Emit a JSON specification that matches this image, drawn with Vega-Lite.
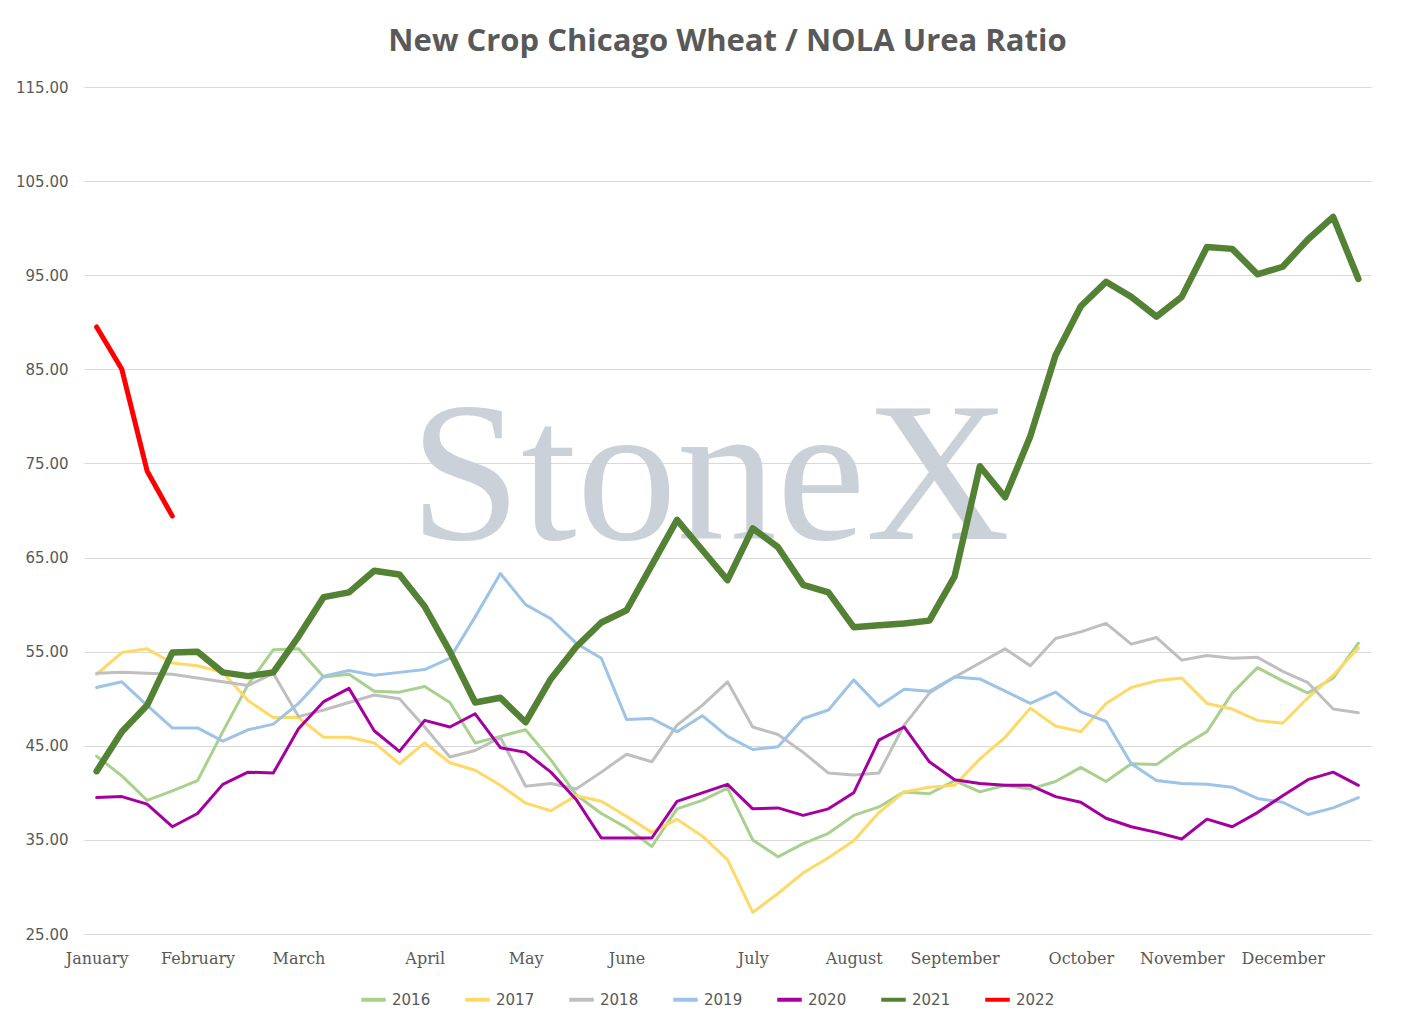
{
  "$schema": "https://vega.github.io/schema/vega-lite/v6.json",
  "width": 1287,
  "height": 847,
  "padding": {"left": 15, "top": 26, "right": 50, "bottom": 10},
  "background": "white",
  "config": {"view": {"stroke": null}, "font": "Open Sans"},
  "title": {"text": "New Crop Chicago Wheat / NOLA Urea Ratio", "fontSize": 31, "fontWeight": "bold", "color": "#595959", "font": "Open Sans", "offset": 22},
  "data": {"values": [
    {"w":0,"2016":43.9,"2017":52.6,"2018":52.7,"2019":51.2,"2020":39.5,"2021":42.3,"2022":89.5},
    {"w":1,"2016":41.8,"2017":54.9,"2018":52.8,"2019":51.8,"2020":39.6,"2021":46.5,"2022":85.0},
    {"w":2,"2016":39.2,"2017":55.3,"2018":52.7,"2019":49.3,"2020":38.8,"2021":49.3,"2022":74.2},
    {"w":3,"2016":40.2,"2017":53.8,"2018":52.6,"2019":46.9,"2020":36.4,"2021":54.9,"2022":69.4},
    {"w":4,"2016":41.3,"2017":53.5,"2018":52.2,"2019":46.9,"2020":37.8,"2021":55.0},
    {"w":5,"2016":46.5,"2017":52.8,"2018":51.8,"2019":45.5,"2020":40.9,"2021":52.8},
    {"w":6,"2016":51.5,"2017":49.8,"2018":51.4,"2019":46.7,"2020":42.2,"2021":52.4},
    {"w":7,"2016":55.2,"2017":48.0,"2018":52.7,"2019":47.3,"2020":42.1,"2021":52.8},
    {"w":8,"2016":55.3,"2017":48.0,"2018":48.1,"2019":49.5,"2020":46.8,"2021":56.6},
    {"w":9,"2016":52.3,"2017":45.9,"2018":48.8,"2019":52.4,"2020":49.7,"2021":60.8},
    {"w":10,"2016":52.6,"2017":45.9,"2018":49.6,"2019":53.0,"2020":51.1,"2021":61.3},
    {"w":11,"2016":50.8,"2017":45.3,"2018":50.4,"2019":52.5,"2020":46.6,"2021":63.6},
    {"w":12,"2016":50.7,"2017":43.1,"2018":50.0,"2019":52.8,"2020":44.4,"2021":63.2},
    {"w":13,"2016":51.3,"2017":45.3,"2018":47.0,"2019":53.1,"2020":47.7,"2021":59.8},
    {"w":14,"2016":49.6,"2017":43.2,"2018":43.8,"2019":54.3,"2020":47.0,"2021":55.0},
    {"w":15,"2016":45.3,"2017":42.4,"2018":44.5,"2019":58.7,"2020":48.4,"2021":49.6},
    {"w":16,"2016":46.0,"2017":40.8,"2018":45.9,"2019":63.3,"2020":44.8,"2021":50.1},
    {"w":17,"2016":46.7,"2017":38.9,"2018":40.7,"2019":60.0,"2020":44.3,"2021":47.5},
    {"w":18,"2016":43.5,"2017":38.1,"2018":41.0,"2019":58.5,"2020":42.2,"2021":52.1},
    {"w":19,"2016":39.8,"2017":39.7,"2018":40.4,"2019":55.9,"2020":39.3,"2021":55.5},
    {"w":20,"2016":37.8,"2017":39.1,"2018":42.2,"2019":54.3,"2020":35.2,"2021":58.1},
    {"w":21,"2016":36.3,"2017":37.5,"2018":44.1,"2019":47.8,"2020":35.2,"2021":59.4},
    {"w":22,"2016":34.3,"2017":35.8,"2018":43.3,"2019":47.9,"2020":35.2,"2021":64.2},
    {"w":23,"2016":38.3,"2017":37.2,"2018":47.2,"2019":46.5,"2020":39.1,"2021":69.0},
    {"w":24,"2016":39.2,"2017":35.4,"2018":49.3,"2019":48.2,"2020":40.0,"2021":65.8},
    {"w":25,"2016":40.5,"2017":32.9,"2018":51.8,"2019":46.0,"2020":40.9,"2021":62.6},
    {"w":26,"2016":35.0,"2017":27.3,"2018":47.0,"2019":44.6,"2020":38.3,"2021":68.1},
    {"w":27,"2016":33.2,"2017":29.3,"2018":46.2,"2019":44.9,"2020":38.4,"2021":66.1},
    {"w":28,"2016":34.6,"2017":31.5,"2018":44.3,"2019":47.9,"2020":37.6,"2021":62.1},
    {"w":29,"2016":35.7,"2017":33.1,"2018":42.1,"2019":48.8,"2020":38.3,"2021":61.3},
    {"w":30,"2016":37.6,"2017":34.9,"2018":41.9,"2019":52.0,"2020":40.0,"2021":57.6},
    {"w":31,"2016":38.5,"2017":37.9,"2018":42.1,"2019":49.2,"2020":45.6,"2021":57.8},
    {"w":32,"2016":40.1,"2017":40.1,"2018":47.2,"2019":51.0,"2020":47.0,"2021":58.0},
    {"w":33,"2016":39.9,"2017":40.6,"2018":50.6,"2019":50.8,"2020":43.3,"2021":58.3},
    {"w":34,"2016":41.3,"2017":40.8,"2018":52.3,"2019":52.3,"2020":41.4,"2021":63.0},
    {"w":35,"2016":40.1,"2017":43.6,"2018":53.8,"2019":52.1,"2020":41.0,"2021":74.7},
    {"w":36,"2016":40.8,"2017":45.9,"2018":55.3,"2019":50.8,"2020":40.8,"2021":71.4},
    {"w":37,"2016":40.4,"2017":49.0,"2018":53.5,"2019":49.5,"2020":40.8,"2021":77.9},
    {"w":38,"2016":41.2,"2017":47.1,"2018":56.4,"2019":50.7,"2020":39.6,"2021":86.5},
    {"w":39,"2016":42.7,"2017":46.5,"2018":57.1,"2019":48.6,"2020":39.0,"2021":91.7},
    {"w":40,"2016":41.2,"2017":49.5,"2018":58.0,"2019":47.6,"2020":37.3,"2021":94.3},
    {"w":41,"2016":43.1,"2017":51.2,"2018":55.8,"2019":43.1,"2020":36.4,"2021":92.7},
    {"w":42,"2016":43.0,"2017":51.9,"2018":56.5,"2019":41.3,"2020":35.8,"2021":90.6},
    {"w":43,"2016":44.9,"2017":52.2,"2018":54.1,"2019":41.0,"2020":35.1,"2021":92.7},
    {"w":44,"2016":46.5,"2017":49.5,"2018":54.6,"2019":40.9,"2020":37.2,"2021":98.0},
    {"w":45,"2016":50.6,"2017":48.9,"2018":54.3,"2019":40.6,"2020":36.4,"2021":97.8},
    {"w":46,"2016":53.3,"2017":47.7,"2018":54.4,"2019":39.4,"2020":37.9,"2021":95.1},
    {"w":47,"2016":51.9,"2017":47.4,"2018":52.9,"2019":39.0,"2020":39.7,"2021":95.9},
    {"w":48,"2016":50.6,"2017":50.1,"2018":51.7,"2019":37.7,"2020":41.4,"2021":98.8},
    {"w":49,"2016":52.2,"2017":52.5,"2018":48.9,"2019":38.4,"2020":42.2,"2021":101.2},
    {"w":50,"2016":55.9,"2017":55.4,"2018":48.5,"2019":39.5,"2020":40.8,"2021":94.6}
  ]},
  "encoding": {
    "x": {"field": "w", "type": "quantitative", "scale": {"domain": [-0.5, 50.5], "nice": false},
      "axis": {"title": null, "grid": false, "ticks": false, "domainColor": "#d9d9d9",
        "values": [0,4,8,13,17,21,26,30,34,39,43,47],
        "labelExpr": "({0:'January',4:'February',8:'March',13:'April',17:'May',21:'June',26:'July',30:'August',34:'September',39:'October',43:'November',47:'December'})[datum.value]",
        "labelFont": "DejaVu Serif", "labelFontSize": 16, "labelColor": "#595959", "labelPadding": 16}},
    "y": {"field": "value", "type": "quantitative", "scale": {"domain": [25, 115], "nice": false, "zero": false},
      "axis": {"title": null, "values": [25,35,45,55,65,75,85,95,105,115], "format": ".2f", "domain": false, "ticks": false,
        "gridColor": "#d9d9d9", "labelFont": "DejaVu Sans", "labelFontSize": 15, "labelColor": "#595959", "labelPadding": 16}}
  },
  "layer": [
    {
      "data": {"values": [{"w": 24.3, "value": 73.3, "t": "StoneX"}]},
      "mark": {"type": "text", "font": "Liberation Serif", "fontSize": 200, "color": "#cbd1d9", "baseline": "middle"},
      "encoding": {"text": {"field": "t"}}
    },
    {
      "transform": [
        {"fold": ["2016","2017","2018","2019","2020","2021","2022"], "as": ["year","value"]},
        {"filter": "datum.value != null"}
      ],
      "mark": {"type": "line", "strokeJoin": "round", "strokeCap": "round"},
      "encoding": {
        "color": {"field": "year", "type": "nominal",
          "scale": {"domain": ["2016","2017","2018","2019","2020","2021","2022"], "range": ["#a9d18e","#ffd966","#bfbfbf","#9dc3e6","#a5009f","#548235","#ff0000"]},
          "legend": {"orient": "none", "legendX": 275, "legendY": 898, "direction": "horizontal", "title": null, "symbolType": "stroke", "symbolSize": 600, "symbolStrokeWidth": 4,
            "labelFontSize": 15, "labelColor": "#595959", "labelFont": "DejaVu Sans", "columnPadding": 26}},
        "strokeWidth": {"condition": [{"test": "datum.year == '2021'", "value": 6.5}, {"test": "datum.year == '2022'", "value": 5}], "value": 3},
        "order": {"field": "year"}
      }
    }
  ]
}
